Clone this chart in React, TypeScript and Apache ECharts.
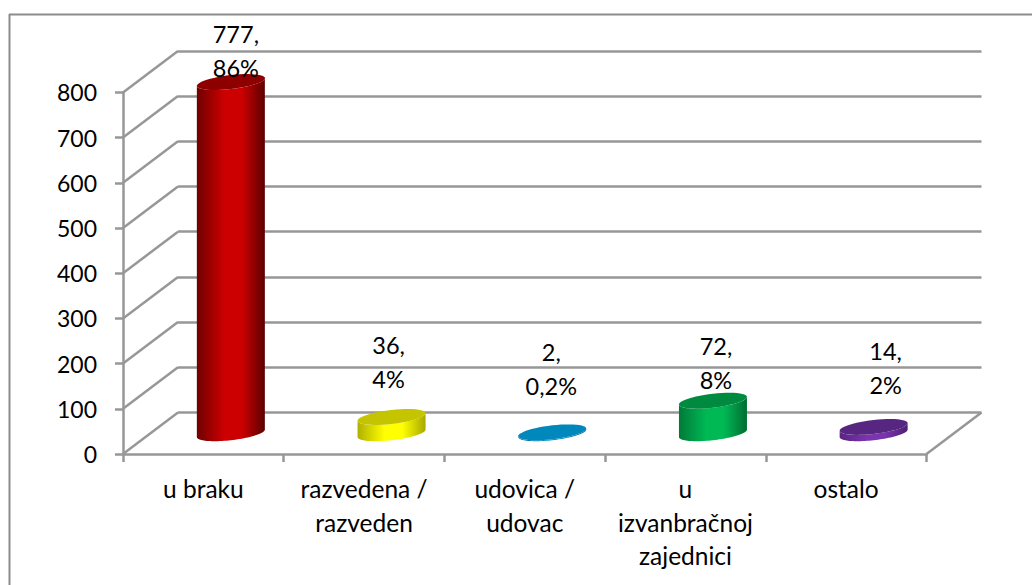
import React, { useEffect, useRef } from "react";
import * as echarts from "echarts";

const categories = ["u braku", "razvedena /\nrazveden", "udovica /\nudovac", "u\nizvanbračnoj\nzajednici", "ostalo"];
const counts = [777, 36, 2, 72, 14];
const shares = ["86%", "4%", "0,2%", "8%", "2%"];
const yTicks = [0, 100, 200, 300, 400, 500, 600, 700, 800];

const palette = [
  { edgeL: "#6f0000", mid: "#cc0000", edgeR: "#5c0000", top: "#8e0000" },
  { edgeL: "#b0b000", mid: "#ffff00", edgeR: "#a8a800", top: "#c4c400" },
  { edgeL: "#0070a0", mid: "#0090c4", edgeR: "#006c98", top: "#0088bd" },
  { edgeL: "#007a38", mid: "#00b854", edgeR: "#006e32", top: "#008a40" },
  { edgeL: "#5a2484", mid: "#7a34ae", edgeR: "#4e1f74", top: "#572680" },
];
const labelOffsets = [[5, -31.5], [-3, -55], [-1, -63], [3, -38], [12, -59]];

const GRAY = "#979797";
const LINE = 2.5;
const FONT = "Lato";
const FRONT = { left: 123, top: 92.4, width: 803.5, height: 361.6 };
const DEPTH = [55, -41.5];
const R = 34;
const TILT = 3.8;
const MINOR = 7;

function arc(cx: number, cy: number, from: number, to: number) {
  const pts: number[][] = [];
  for (let i = 0; i <= 48; i++) {
    const t = from + ((to - from) * i) / 48;
    pts.push([cx + R * Math.cos(t), cy - TILT * Math.cos(t) + MINOR * Math.sin(t)]);
  }
  return pts;
}

function renderCylinder(_p: any, api: any) {
  const i = api.value(0);
  const base = api.coord([i, 0]);
  const top = api.coord([i, api.value(1)]);
  const c = palette[i];
  const side = [...arc(top[0], top[1], Math.PI, 0), ...arc(base[0], base[1], 0, Math.PI)];
  return {
    type: "group",
    children: [
      {
        type: "polygon",
        shape: { points: side },
        style: {
          fill: new echarts.graphic.LinearGradient(0, 0, 1, 0, [
            { offset: 0, color: c.edgeL },
            { offset: 0.4, color: c.mid },
            { offset: 0.66, color: c.mid },
            { offset: 1, color: c.edgeR },
          ]),
        },
      },
      {
        type: "polygon",
        shape: { points: arc(top[0], top[1], 0, Math.PI * 2) },
        style: { fill: c.top },
      },
    ],
  };
}

function renderLabel(_p: any, api: any) {
  const i = api.value(0);
  const top = api.coord([i, api.value(1)]);
  return {
    type: "text",
    x: top[0] + labelOffsets[i][0],
    y: top[1] + labelOffsets[i][1],
    style: {
      text: `${counts[i]},\n${shares[i]}`,
      font: `23.5px ${FONT}`,
      lineHeight: 34,
      fill: "#000000",
      align: "center",
      verticalAlign: "middle",
    },
  };
}

function renderSideLine(_p: any, api: any) {
  const band = api.size([1, 0])[0];
  const p = api.coord([0, api.value(0)]);
  const x = p[0] - band / 2;
  return {
    type: "line",
    shape: { x1: x, y1: p[1], x2: x + DEPTH[0], y2: p[1] + DEPTH[1] },
    style: { stroke: GRAY, lineWidth: LINE },
  };
}

function renderFloorEdge(_p: any, api: any) {
  const band = api.size([1, 0])[0];
  const p = api.coord([categories.length - 1, 0]);
  const x = p[0] + band / 2;
  return {
    type: "line",
    shape: { x1: x, y1: p[1], x2: x + DEPTH[0], y2: p[1] + DEPTH[1] },
    style: { stroke: GRAY, lineWidth: LINE },
  };
}

export default function App() {
  const ref = useRef<HTMLDivElement>(null);
  useEffect(() => {
    document.body.style.margin = "0";
    const chart = echarts.init(ref.current!, null, { renderer: "svg" });
    const hiddenX = (gridIndex: number) => ({
      type: "category" as const,
      gridIndex,
      data: categories,
      show: false,
    });
    const hiddenY = (gridIndex: number, splitLine: boolean) => ({
      type: "value" as const,
      gridIndex,
      min: 0,
      max: 800,
      interval: 100,
      axisLine: { show: false },
      axisTick: { show: false },
      axisLabel: { show: false },
      splitLine: { show: splitLine, lineStyle: { color: GRAY, width: LINE } },
    });
    chart.setOption({
      animation: false,
      backgroundColor: "#ffffff",
      graphic: [
        { type: "line", z: 0, shape: { x1: 9, y1: 14.5, x2: 1032, y2: 14.5 }, style: { stroke: "#8c8c8c", lineWidth: 2 } },
        { type: "line", z: 0, shape: { x1: 9.5, y1: 14, x2: 9.5, y2: 585 }, style: { stroke: "#8c8c8c", lineWidth: 2 } },
      ],
      grid: [
        { ...FRONT },
        { left: FRONT.left + DEPTH[0], top: FRONT.top + DEPTH[1], width: FRONT.width, height: FRONT.height },
        { left: FRONT.left + DEPTH[0] / 2, top: FRONT.top + DEPTH[1] / 2, width: FRONT.width, height: FRONT.height },
      ],
      xAxis: [
        {
          type: "category",
          gridIndex: 0,
          data: categories,
          axisLine: { lineStyle: { color: GRAY, width: LINE } },
          axisTick: { show: true, length: 8, alignWithLabel: false, lineStyle: { color: GRAY, width: LINE } },
          axisLabel: { interval: 0, margin: 18, fontFamily: FONT, fontSize: 24.5, color: "#000", lineHeight: 33.5 },
        },
        hiddenX(1),
        hiddenX(2),
      ],
      yAxis: [
        {
          type: "value",
          gridIndex: 0,
          min: 0,
          max: 800,
          interval: 100,
          axisLine: { show: true, lineStyle: { color: GRAY, width: LINE } },
          axisTick: { show: true, length: 8, lineStyle: { color: GRAY, width: LINE } },
          axisLabel: { margin: 26, fontFamily: FONT, fontSize: 23, color: "#000", padding: [8, 0, 0, 0] },
          splitLine: { show: false },
        },
        hiddenY(1, true),
        hiddenY(2, false),
      ],
      series: [
        {
          type: "custom",
          xAxisIndex: 0,
          yAxisIndex: 0,
          z: 1,
          silent: true,
          clip: false,
          encode: { x: -1, y: 0 },
          renderItem: renderSideLine,
          data: yTicks.map((v) => [v]),
        },
        {
          type: "custom",
          xAxisIndex: 0,
          yAxisIndex: 0,
          z: 1,
          silent: true,
          clip: false,
          encode: { x: -1, y: 0 },
          renderItem: renderFloorEdge,
          data: [[0]],
        },
        {
          type: "custom",
          xAxisIndex: 2,
          yAxisIndex: 2,
          z: 3,
          silent: true,
          clip: false,
          encode: { x: 0, y: 1 },
          renderItem: renderCylinder,
          data: counts.map((v, i) => [i, v]),
        },
        {
          type: "custom",
          xAxisIndex: 2,
          yAxisIndex: 2,
          z: 4,
          silent: true,
          clip: false,
          encode: { x: 0, y: 1 },
          renderItem: renderLabel,
          data: counts.map((v, i) => [i, v]),
        },
      ],
    });
    return () => chart.dispose();
  }, []);
  return <div ref={ref} style={{ position: "absolute", left: 0, top: 0, width: 1032, height: 585 }} />;
}
